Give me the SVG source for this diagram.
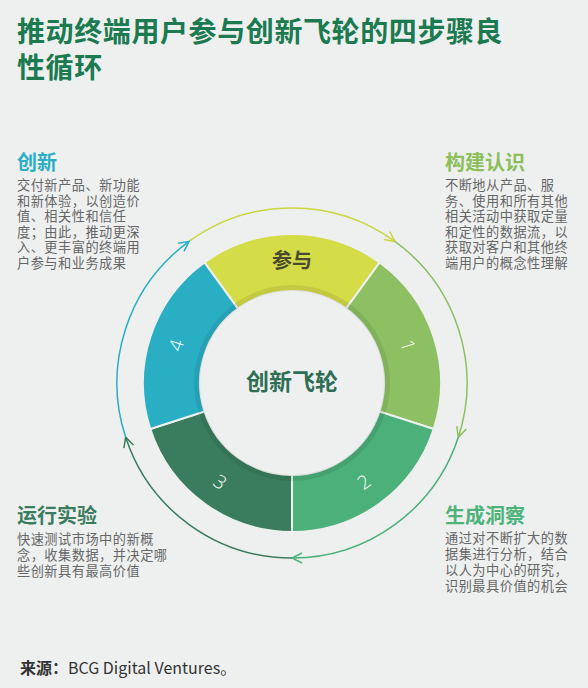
<svg xmlns="http://www.w3.org/2000/svg" width="588" height="688" viewBox="0 0 588 688">
<defs>
<style>
text{font-family:"Noto Sans CJK SC","Noto Sans",sans-serif}
.title{font-size:28px;font-weight:bold;fill:#1b7a50;letter-spacing:0.6px}
.h{font-size:20px;font-weight:bold}
.b{font-size:13.2px;fill:#666;letter-spacing:0.5px}
.seg{stroke:#eef0ee;stroke-width:2}
.num{font-family:"Open Sans","Liberation Sans",sans-serif;font-size:19px;font-weight:300;fill:#fff;text-anchor:middle}
.arc{fill:none;stroke-width:1.5}
</style>
<marker id="mY" viewBox="0 0 12 12" refX="11" refY="6" markerWidth="12" markerHeight="12" markerUnits="userSpaceOnUse" orient="auto"><path d="M1,1 L11,6 L1,11" fill="none" stroke="#c9d63c" stroke-width="1.5"/></marker>
<marker id="mG1" viewBox="0 0 12 12" refX="11" refY="6" markerWidth="12" markerHeight="12" markerUnits="userSpaceOnUse" orient="auto"><path d="M1,1 L11,6 L1,11" fill="none" stroke="#8cc063" stroke-width="1.5"/></marker>
<marker id="mG2" viewBox="0 0 12 12" refX="11" refY="6" markerWidth="12" markerHeight="12" markerUnits="userSpaceOnUse" orient="auto"><path d="M1,1 L11,6 L1,11" fill="none" stroke="#4bb07a" stroke-width="1.5"/></marker>
<marker id="mD" viewBox="0 0 12 12" refX="11" refY="6" markerWidth="12" markerHeight="12" markerUnits="userSpaceOnUse" orient="auto"><path d="M1,1 L11,6 L1,11" fill="none" stroke="#3a7d5e" stroke-width="1.5"/></marker>
<marker id="mB" viewBox="0 0 12 12" refX="11" refY="6" markerWidth="12" markerHeight="12" markerUnits="userSpaceOnUse" orient="auto"><path d="M1,1 L11,6 L1,11" fill="none" stroke="#2aaec4" stroke-width="1.5"/></marker>
</defs>
<rect width="588" height="688" fill="#eef0f0"/>
<text class="title" x="17" y="42">推动终端用户参与创新飞轮的四步骤良</text>
<text class="title" x="17" y="78">性循环</text>

<g id="connectors">
<path class="arc" stroke="#c9d63c" d="M189.1,241.4 A175,175 0 0 1 394.9,241.4" marker-end="url(#mY)"/>
<path class="arc" stroke="#8cc063" d="M394.9,241.4 A175,175 0 0 1 458.4,437.1" marker-end="url(#mG1)"/>
<path class="arc" stroke="#4bb07a" d="M458.4,437.1 A175,175 0 0 1 292,558" marker-end="url(#mG2)"/>
<path class="arc" stroke="#3a7d5e" d="M292,558 A175,175 0 0 1 125.6,437.1" marker-end="url(#mD)"/>
<path class="arc" stroke="#2aaec4" d="M125.6,437.1 A175,175 0 0 1 189.1,241.4" marker-end="url(#mB)"/>
</g>

<g id="seg-engage">
<path class="seg" fill="#d4dc48" d="M204.42,262.46 A149,149 0 0 1 379.58,262.46 L346.08,308.57 A92,92 0 0 0 237.92,308.57 Z"/>
<text x="292" y="268" text-anchor="middle" font-size="20" font-weight="bold" fill="#4a4a2e">参与</text>
</g>
<g id="seg-1">
<path class="seg" fill="#8cc063" d="M379.58,262.46 A149,149 0 0 1 433.71,429.04 L379.50,411.43 A92,92 0 0 0 346.08,308.57 Z"/>
<text class="num" transform="translate(408,345.3) rotate(72)" y="7">1</text>
</g>
<g id="seg-2">
<path class="seg" fill="#4bb07a" d="M433.71,429.04 A149,149 0 0 1 292,532 L292,475 A92,92 0 0 0 379.50,411.43 Z"/>
<text class="num" transform="translate(363.7,481.7) rotate(-36)" y="7">2</text>
</g>
<g id="seg-3">
<path class="seg" fill="#3a7d5e" d="M292,532 A149,149 0 0 1 150.29,429.04 L204.50,411.43 A92,92 0 0 0 292,475 Z"/>
<text class="num" transform="translate(220.3,481.7) rotate(36)" y="7">3</text>
</g>
<g id="seg-4">
<path class="seg" fill="#2aaec4" d="M150.29,429.04 A149,149 0 0 1 204.42,262.46 L237.92,308.57 A92,92 0 0 0 204.50,411.43 Z"/>
<text class="num" transform="translate(176,345.3) rotate(-72)" y="7">4</text>
</g>
<circle cx="292" cy="383" r="95" fill="none" stroke="#000" stroke-opacity="0.08" stroke-width="6"/>
<g id="center">
<circle cx="292" cy="383" r="91" fill="#eef0f0"/>
<text x="292" y="390" text-anchor="middle" font-size="23" font-weight="bold" fill="#2e6e55">创新飞轮</text>
</g>

<g id="innovate">
<text class="h" x="17" y="170" fill="#2aaec4">创新</text>
<text class="b" x="17" y="190">交付新产品、新功能</text>
<text class="b" x="17" y="205.6">和新体验，以创造价</text>
<text class="b" x="17" y="221.2">值、相关性和信任</text>
<text class="b" x="17" y="236.8">度；由此，推动更深</text>
<text class="b" x="17" y="252.4">入、更丰富的终端用</text>
<text class="b" x="17" y="268">户参与和业务成果</text>
</g>
<g id="insight">
<text class="h" x="445" y="170" fill="#8cbf5a">构建认识</text>
<text class="b" x="445" y="190">不断地从产品、服</text>
<text class="b" x="445" y="205.6">务、使用和所有其他</text>
<text class="b" x="445" y="221.2">相关活动中获取定量</text>
<text class="b" x="445" y="236.8">和定性的数据流，以</text>
<text class="b" x="445" y="252.4">获取对客户和其他终</text>
<text class="b" x="445" y="268">端用户的概念性理解</text>
</g>
<g id="experiment">
<text class="h" x="17" y="523" fill="#3a7d5e">运行实验</text>
<text class="b" x="17" y="544">快速测试市场中的新概</text>
<text class="b" x="17" y="560">念，收集数据，并决定哪</text>
<text class="b" x="17" y="576">些创新具有最高价值</text>
</g>
<g id="generate">
<text class="h" x="445" y="523" fill="#4db37a">生成洞察</text>
<text class="b" x="445" y="543">通过对不断扩大的数</text>
<text class="b" x="445" y="559">据集进行分析，结合</text>
<text class="b" x="445" y="575">以人为中心的研究，</text>
<text class="b" x="445" y="591">识别最具价值的机会</text>
</g>
<text x="20" y="674" font-size="16" fill="#333"><tspan font-weight="bold">来源：</tspan>BCG Digital Ventures。</text>
</svg>
